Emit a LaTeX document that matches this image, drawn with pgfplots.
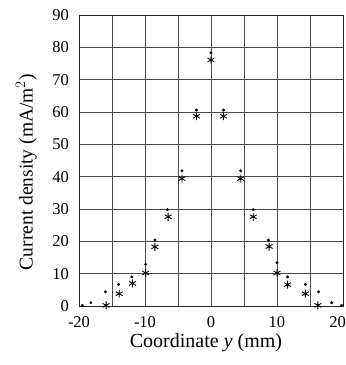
\documentclass[border=0pt]{standalone}
\usepackage{pgfplots}
\pgfplotsset{compat=1.18}
\usepackage{fontspec}
\setmainfont{Liberation Serif}
\begin{document}
\begin{tikzpicture}
\begin{axis}[
  at={(79bp,59bp)}, anchor=south west,
  scale only axis,
  width=264bp, height=291bp,
  xmin=-20, xmax=20, ymin=0, ymax=90,
  xtick={-20,-10,0,10,20},
  xticklabels={-20,-10,0,10,\makebox[0pt][r]{20\hspace*{-3bp}}},
  minor xtick={-15,-5,5,15},
  ytick={0,10,...,90},
  grid=both,
  major grid style={black!70, line width=0.5pt},
  minor grid style={black!70, line width=0.5pt},
  axis line style={black!85, line width=0.6pt},
  major tick length=0pt, minor tick length=0pt,
  /pgf/number format/assume math mode=true,
  ticklabel style={font=\fontsize{16.5bp}{18bp}\selectfont},
  xticklabel style={anchor=base, inner sep=0pt, yshift=-21bp},
  yticklabel style={anchor=east, inner sep=0pt, xshift=-10bp},
  xlabel={Coordinate \textit{y} (mm)},
  ylabel={Current density (mA/m$^{2}$)},
  xlabel style={font=\fontsize{20bp}{22bp}\selectfont, at={(axis description cs:0.481,-0.143)}, anchor=base, inner sep=0pt},
  ylabel style={font=\fontsize{19.5bp}{22bp}\selectfont, at={(axis description cs:-0.176,0.46)}, anchor=base, inner sep=0pt},
  clip=false,
]
\addplot[only marks, mark=asterisk, mark size=4bp, mark options={line width=0.9pt}] coordinates {
(-15.9,0.2) (-13.9,3.8) (-11.9,7.0) (-9.9,10.2) (-8.5,18.3) (-6.5,27.6) (-4.4,39.4) (-2.2,58.7) (0,76.1)
(1.9,58.7) (4.5,39.4) (6.4,27.6) (8.8,18.4) (10.0,10.2) (11.6,6.6) (14.3,3.8) (16.2,0.2)
};
\addplot[only marks, mark=*, mark size=1.3bp] coordinates {
(-19.5,0.2) (-18.2,1.0) (-16.0,4.4) (-14.0,6.7) (-12.0,9.0) (-9.9,12.9) (-8.5,20.4) (-6.6,29.8) (-4.4,41.8) (-2.2,60.6) (0,78.3)
(1.9,60.6) (4.5,41.8) (6.4,29.8) (8.7,20.4) (10.0,13.4) (11.6,9.0) (14.3,6.7) (16.3,4.4) (18.3,1.0) (19.8,0.2)
};
\end{axis}
\pgfresetboundingbox
\useasboundingbox (0,0) rectangle (346bp,365bp);
\end{tikzpicture}
\end{document}
